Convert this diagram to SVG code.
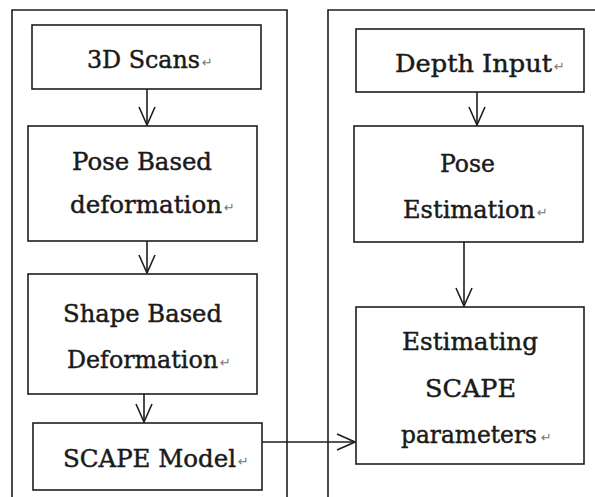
<svg xmlns="http://www.w3.org/2000/svg" width="595" height="497" viewBox="0 0 595 497">
<style>
.frame{fill:none;stroke:#1e1e1e;stroke-width:1.6}
.box{fill:#fff;stroke:#1e1e1e;stroke-width:1.6}
.t{font-family:"DejaVu Serif","Liberation Serif",serif;font-size:24px;fill:#1a1a1a;stroke:#1a1a1a;stroke-width:0.45}
.rm{font-family:"DejaVu Sans",sans-serif;font-size:13px;fill:#777}
.c{fill:none;stroke:#1e1e1e;stroke-width:1.6}
</style>
<defs>
<marker id="ah" viewBox="0 0 20 18" refX="19" refY="9" markerWidth="20" markerHeight="18" markerUnits="userSpaceOnUse" orient="auto">
<path d="M1,1 L19,9 L1,17" fill="none" stroke="#1e1e1e" stroke-width="1.6"/>
</marker>
</defs>
<rect width="595" height="497" fill="#fff"/>
<g id="frames">
<path class="frame" d="M12,497 V10 H287 V497"/>
<path class="frame" d="M328,497 V10 H595"/>
</g>
<g id="connectors">
<line class="c" x1="147" y1="89" x2="147" y2="125" marker-end="url(#ah)"/>
<line class="c" x1="147" y1="241" x2="147" y2="273" marker-end="url(#ah)"/>
<line class="c" x1="144" y1="394" x2="144" y2="422" marker-end="url(#ah)"/>
<line class="c" x1="477" y1="92" x2="477" y2="125" marker-end="url(#ah)"/>
<line class="c" x1="464" y1="242" x2="464" y2="306" marker-end="url(#ah)"/>
<line class="c" x1="262" y1="442" x2="355" y2="442" marker-end="url(#ah)"/>
</g>
<g id="scans">
<rect class="box" x="32" y="25" width="229" height="64"/>
<text class="t" x="87" y="68" textLength="113" lengthAdjust="spacingAndGlyphs">3D Scans</text>
<text class="rm" x="202" y="67">↵</text>
</g>
<g id="pose-deform">
<rect class="box" x="28" y="126" width="229" height="115"/>
<text class="t" x="72" y="170" textLength="140" lengthAdjust="spacingAndGlyphs">Pose Based</text>
<text class="t" x="70" y="213" textLength="152" lengthAdjust="spacingAndGlyphs">deformation</text>
<text class="rm" x="224" y="212">↵</text>
</g>
<g id="shape-deform">
<rect class="box" x="28" y="274" width="229" height="120"/>
<text class="t" x="63" y="322" textLength="159" lengthAdjust="spacingAndGlyphs">Shape Based</text>
<text class="t" x="67" y="368" textLength="151" lengthAdjust="spacingAndGlyphs">Deformation</text>
<text class="rm" x="220" y="367">↵</text>
</g>
<g id="scape-model">
<rect class="box" x="33" y="423" width="229" height="67"/>
<text class="t" x="63" y="467" textLength="173" lengthAdjust="spacingAndGlyphs">SCAPE Model</text>
<text class="rm" x="238" y="466">↵</text>
</g>
<g id="depth">
<rect class="box" x="356" y="29" width="228" height="63"/>
<text class="t" x="395" y="72" textLength="157" lengthAdjust="spacingAndGlyphs">Depth Input</text>
<text class="rm" x="554" y="71">↵</text>
</g>
<g id="pose-est">
<rect class="box" x="354" y="126" width="229" height="116"/>
<text class="t" x="440" y="172" textLength="55" lengthAdjust="spacingAndGlyphs">Pose</text>
<text class="t" x="403" y="218" textLength="132" lengthAdjust="spacingAndGlyphs">Estimation</text>
<text class="rm" x="537" y="217">↵</text>
</g>
<g id="estimating">
<rect class="box" x="356" y="307" width="228" height="157"/>
<text class="t" x="402" y="350" textLength="136" lengthAdjust="spacingAndGlyphs">Estimating</text>
<text class="t" x="425" y="397" textLength="91" lengthAdjust="spacingAndGlyphs">SCAPE</text>
<text class="t" x="401" y="443" textLength="136" lengthAdjust="spacingAndGlyphs">parameters</text>
<text class="rm" x="541" y="442">↵</text>
</g>
</svg>
